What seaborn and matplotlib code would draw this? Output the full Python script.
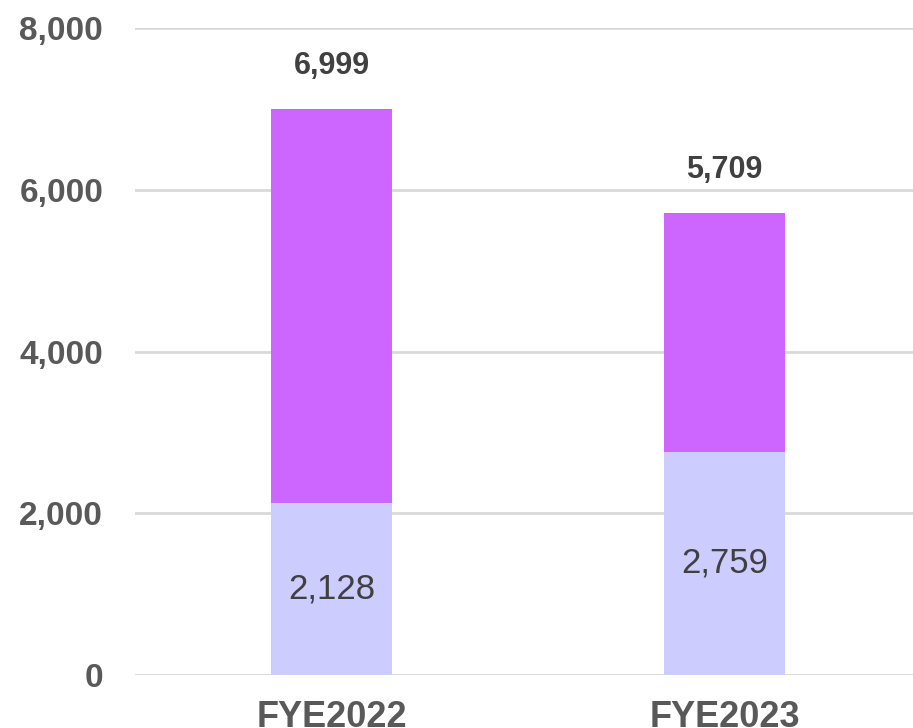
import matplotlib
matplotlib.use('Agg')
import matplotlib.pyplot as plt
import seaborn as sns
import pandas as pd

categories = ['FYE2022', 'FYE2023']
lower_values = [2128, 2759]
totals = [6999, 5709]
y_ticks = [0, 2000, 4000, 6000, 8000]

sns.set_theme(style='white')
plt.rcParams['font.family'] = ['Liberation Sans', 'DejaVu Sans']

df = pd.DataFrame({'cat': categories, 'lower': lower_values, 'total': totals})

fig = plt.figure(figsize=(9.13, 7.28), dpi=100)
ax = fig.add_axes([0.148, 0.0728, 0.852, 0.8887])

# top segment drawn as full total, lower segment on top of it
sns.barplot(data=df, x='cat', y='total', color='#CC66FF', saturation=1, width=0.31,
            linewidth=0, ax=ax, zorder=3)
sns.barplot(data=df, x='cat', y='lower', color='#CCCCFF', saturation=1, width=0.31,
            linewidth=0, ax=ax, zorder=3)

ax.set_ylim(0, 8000)
ax.set_xlim(-0.5, 1.48)
ax.set_yticks(y_ticks)
ax.set_yticklabels([f'{v:,}' for v in y_ticks], fontsize=24, fontweight='bold', color='#595959')
ax.set_xticks(range(len(categories)))
ax.set_xticklabels(categories, fontsize=26, fontweight='bold', color='#595959',
                   family=['Liberation Sans Narrow', 'Liberation Sans'])
ax.tick_params(axis='y', length=0, pad=23)
ax.tick_params(axis='x', length=0, pad=18)
ax.set_xlabel('')
ax.set_ylabel('')
ax.yaxis.grid(True, color='#D9D9D9', linewidth=2, zorder=0)
ax.set_axisbelow(True)
for s in ax.spines.values():
    s.set_visible(False)

for i, (lo, tot) in enumerate(zip(lower_values, totals)):
    ax.text(i, tot + 350, f'{tot:,}', ha='center', va='bottom', fontsize=22,
            fontweight='bold', color='#404040')
    ax.text(i, lo / 2, f'{lo:,}', ha='center', va='center', fontsize=25, color='#404040')

fig.savefig('out.png', dpi=100)
